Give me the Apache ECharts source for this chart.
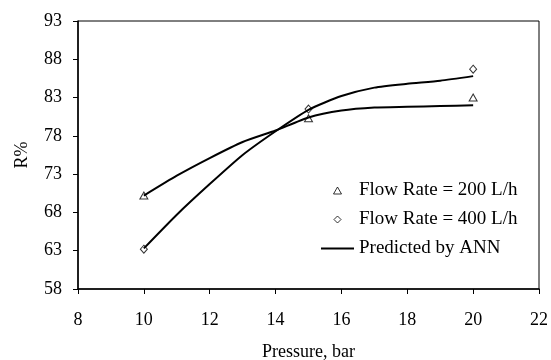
<!DOCTYPE html>
<html>
<head>
<meta charset="utf-8">
<script src="https://cdn.jsdelivr.net/npm/echarts@6/dist/echarts.min.js"></script>
<style>
  html, body { margin: 0; padding: 0; background: #fff; }
  #chart { width: 551px; height: 360px; }
</style>
</head>
<body>
<div id="chart"></div>
<script>
// measured points
const expX = [10, 15, 20];
const rate200 = [70.2, 80.3, 83.0];
const rate400 = [63.2, 81.5, 86.7];

// ANN predicted curves
const annX = [10, 11, 12, 13, 14, 15, 16, 17, 18, 19, 20];
const ann200 = [70.2, 72.8, 75.1, 77.2, 78.7, 80.4, 81.3, 81.7, 81.8, 81.9, 82.0];
const ann400 = [63.3, 67.7, 71.7, 75.5, 78.6, 81.4, 83.2, 84.3, 84.8, 85.2, 85.8];

const xTicks = { min: 8, max: 22, step: 2 };
const yTicks = { min: 58, max: 93, step: 5 };

const font = 'Liberation Serif';
const pair = (xs, ys) => xs.map((x, i) => [x, ys[i]]);
const hollow = { color: '#fff', borderColor: '#000', borderWidth: 1 };

const chart = echarts.init(document.getElementById('chart'));
chart.setOption({
    animation: false,
    backgroundColor: '#fff',
    grid: {
        left: 78, right: 12, top: 21, bottom: 71, outerBoundsMode: 'none',
        show: true, borderColor: '#000', borderWidth: 1
    },
    xAxis: {
        type: 'value', min: xTicks.min, max: xTicks.max, interval: xTicks.step,
        name: 'Pressure, bar', nameLocation: 'middle', nameGap: 54,
        nameTextStyle: { fontFamily: font, fontSize: 18, color: '#000' },
        axisLine: { lineStyle: { color: '#000', width: 1.5 } },
        axisTick: { inside: false, length: 5, lineStyle: { color: '#000' } },
        axisLabel: { fontFamily: font, fontSize: 18, color: '#000', margin: 22 },
        splitLine: { show: false }
    },
    yAxis: {
        type: 'value', min: yTicks.min, max: yTicks.max, interval: yTicks.step,
        name: 'R%', nameLocation: 'middle', nameGap: 47, nameRotate: 90,
        nameTextStyle: { fontFamily: font, fontSize: 18, color: '#000' },
        axisLine: { show: true, lineStyle: { color: '#000', width: 1.5 } },
        axisTick: { show: true, length: 5, lineStyle: { color: '#000' } },
        axisLabel: { fontFamily: font, fontSize: 18, color: '#000', margin: 16 },
        splitLine: { show: false }
    },
    legend: {
        left: 321, top: 181, orient: 'vertical', padding: 0,
        itemWidth: 33, itemHeight: 7, itemGap: 10, symbolKeepAspect: true,
        textStyle: { fontFamily: font, fontSize: 19, color: '#000' },
        data: [
            { name: 'Flow Rate = 200 L/h', icon: 'path://M4,0L8,7L0,7Z', itemStyle: hollow },
            { name: 'Flow Rate = 400 L/h', icon: 'path://M3.5,0L7,3.5L3.5,7L0,3.5Z', itemStyle: hollow },
            { name: 'Predicted by ANN', icon: 'path://M0,0L33,0L33,2L0,2Z', itemStyle: { color: '#000' } }
        ]
    },
    series: [
        {
            name: 'Predicted by ANN', type: 'line', data: pair(annX, ann200),
            smooth: 0.2, symbol: 'none', lineStyle: { color: '#000', width: 2 }, itemStyle: { color: '#000' }
        },
        {
            name: 'Predicted by ANN', type: 'line', data: pair(annX, ann400),
            smooth: 0.2, symbol: 'none', lineStyle: { color: '#000', width: 2 }, itemStyle: { color: '#000' }
        },
        {
            name: 'Flow Rate = 200 L/h', type: 'scatter', data: pair(expX, rate200),
            symbol: 'triangle', symbolSize: [8, 7], itemStyle: hollow
        },
        {
            name: 'Flow Rate = 400 L/h', type: 'scatter', data: pair(expX, rate400),
            symbol: 'diamond', symbolSize: [7, 8], itemStyle: hollow
        }
    ]
});
</script>
</body>
</html>
